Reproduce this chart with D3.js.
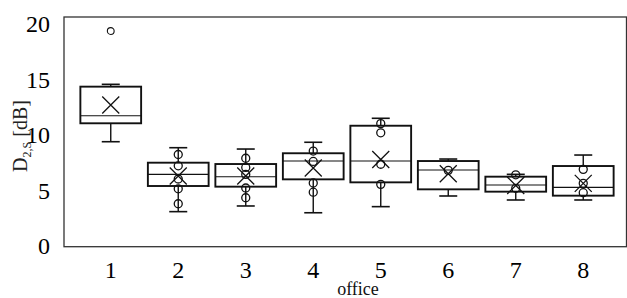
<!DOCTYPE html>
<html>
<head>
<meta charset="utf-8">
<script src="https://cdn.jsdelivr.net/npm/d3@7"></script>
<style>
  body { margin: 0; background: #fff; }
  svg { display: block; font-family: "Liberation Serif", "Times New Roman", serif; }
</style>
</head>
<body>
<div id="chart"></div>
<script>
// offices on the x axis
var offices = ['1', '2', '3', '4', '5', '6', '7', '8'];
// box statistics (dB)
var whiskerLow  = [9.35, 3.05, 3.56, 2.95, 3.50, 4.46, 4.10, 4.10];
var q1          = [11.01, 5.36, 5.30, 5.96, 5.69, 5.06, 4.85, 4.49];
var medians     = [11.69, 6.41, 6.20, 7.61, 7.61, 6.80, 5.45, 5.24];
var q3          = [14.31, 7.46, 7.34, 8.31, 10.79, 7.61, 6.20, 7.16];
var whiskerHigh = [14.52, 8.81, 8.69, 9.30, 11.46, 7.79, 6.41, 8.15];
var means       = [12.66, 6.26, 6.26, 6.98, 7.75, 6.47, 5.41, 5.60];
// inner points drawn as circles
var innerPoints = [
  [],
  [8.20, 7.18, 5.99, 5.11, 3.76],
  [7.86, 7.03, 6.40, 5.18, 4.30],
  [8.51, 7.57, 5.63, 4.80],
  [10.98, 10.15, 7.32, 5.51],
  [6.77],
  [6.37, 5.15],
  [6.86, 5.60, 4.76]
];
var outliers = [[19.32], [], [], [], [], [], [], []];
var yTicks = [0, 5, 10, 15, 20];

var width = 627, height = 298;
var frame = { left: 64, top: 17, right: 626.5, bottom: 246.7 };

var svg = d3.select('#chart').append('svg')
  .attr('width', width).attr('height', height);

var x = d3.scaleBand()
  .domain(offices)
  .range([77, 617])
  .paddingInner(0).paddingOuter(0);

var y = d3.scaleLinear()
  .domain([0, 20])
  .range([245.5, 23.5]);

var boxW = x.bandwidth() * 0.9;
var capHalf = 9, crossHalf = 8.5, r = 4;

// plot frame
svg.append('rect')
  .attr('x', frame.left).attr('y', frame.top)
  .attr('width', frame.right - frame.left)
  .attr('height', frame.bottom - frame.top)
  .attr('fill', 'none').attr('stroke', '#333').attr('stroke-width', 1.3);

// y tick labels (no tick marks)
var yAxis = d3.axisLeft(y).tickValues(yTicks).tickSize(0).tickPadding(0);
var gy = svg.append('g').attr('transform', 'translate(50,0)').call(yAxis);
gy.select('.domain').remove();
gy.selectAll('text')
  .attr('font-family', '"Liberation Serif", serif')
  .attr('font-size', 24).attr('fill', '#000')
  .attr('dy', '0.34em');

// x tick labels
var xAxis = d3.axisBottom(x).tickSize(0).tickPadding(0);
var gx = svg.append('g').attr('transform', 'translate(0,262)').call(xAxis);
gx.select('.domain').remove();
gx.selectAll('text')
  .attr('font-family', '"Liberation Serif", serif')
  .attr('font-size', 24).attr('fill', '#000')
  .attr('dy', '0.68em');

var boxes = svg.append('g').selectAll('g.box')
  .data(offices)
  .join('g')
  .attr('class', 'box')
  .attr('transform', function(d) { return 'translate(' + (x(d) + x.bandwidth() / 2) + ',0)'; });

// whiskers
boxes.append('line')
  .attr('x1', 0).attr('x2', 0)
  .attr('y1', function(d, i) { return y(q3[i]); })
  .attr('y2', function(d, i) { return y(whiskerHigh[i]); })
  .attr('stroke', '#111').attr('stroke-width', 1.4);
boxes.append('line')
  .attr('x1', 0).attr('x2', 0)
  .attr('y1', function(d, i) { return y(q1[i]); })
  .attr('y2', function(d, i) { return y(whiskerLow[i]); })
  .attr('stroke', '#111').attr('stroke-width', 1.4);
boxes.append('line')
  .attr('x1', -capHalf).attr('x2', capHalf)
  .attr('y1', function(d, i) { return y(whiskerHigh[i]); })
  .attr('y2', function(d, i) { return y(whiskerHigh[i]); })
  .attr('stroke', '#111').attr('stroke-width', 1.6);
boxes.append('line')
  .attr('x1', -capHalf).attr('x2', capHalf)
  .attr('y1', function(d, i) { return y(whiskerLow[i]); })
  .attr('y2', function(d, i) { return y(whiskerLow[i]); })
  .attr('stroke', '#111').attr('stroke-width', 1.6);

// box
boxes.append('rect')
  .attr('x', -boxW / 2).attr('width', boxW)
  .attr('y', function(d, i) { return y(q3[i]); })
  .attr('height', function(d, i) { return y(q1[i]) - y(q3[i]); })
  .attr('fill', '#fff').attr('stroke', '#111').attr('stroke-width', 1.9);

// median
boxes.append('line')
  .attr('x1', -boxW / 2).attr('x2', boxW / 2)
  .attr('y1', function(d, i) { return y(medians[i]); })
  .attr('y2', function(d, i) { return y(medians[i]); })
  .attr('stroke', '#111').attr('stroke-width', 1.1);

// inner points and outliers
boxes.each(function(d, i) {
  var g = d3.select(this);
  g.selectAll('circle.pt')
    .data(innerPoints[i])
    .join('circle')
    .attr('class', 'pt')
    .attr('cx', 0).attr('cy', function(v) { return y(v); })
    .attr('r', r)
    .attr('fill', 'none').attr('stroke', '#111').attr('stroke-width', 1.3);
  g.selectAll('circle.out')
    .data(outliers[i])
    .join('circle')
    .attr('class', 'out')
    .attr('cx', 0).attr('cy', function(v) { return y(v); })
    .attr('r', 3.4)
    .attr('fill', 'none').attr('stroke', '#111').attr('stroke-width', 1.1);
});

// mean markers (x)
boxes.append('path')
  .attr('d', function(d, i) {
    var c = y(means[i]);
    return 'M' + (-crossHalf) + ',' + (c - crossHalf) + 'L' + crossHalf + ',' + (c + crossHalf) +
      'M' + (-crossHalf) + ',' + (c + crossHalf) + 'L' + crossHalf + ',' + (c - crossHalf);
  })
  .attr('fill', 'none').attr('stroke', '#111').attr('stroke-width', 1.3);

// axis titles
svg.append('text')
  .attr('x', 358).attr('y', 295)
  .attr('text-anchor', 'middle')
  .attr('font-size', 18).attr('fill', '#111')
  .text('office');

var yt = svg.append('text')
  .attr('transform', 'translate(27,136) rotate(-90)')
  .attr('text-anchor', 'middle')
  .attr('font-size', 20).attr('fill', '#222');
yt.append('tspan').text('D');
yt.append('tspan').attr('font-size', 12).attr('dy', 4).text('2,S');
yt.append('tspan').attr('dy', -4).text(' [dB]');
</script>
</body>
</html>
